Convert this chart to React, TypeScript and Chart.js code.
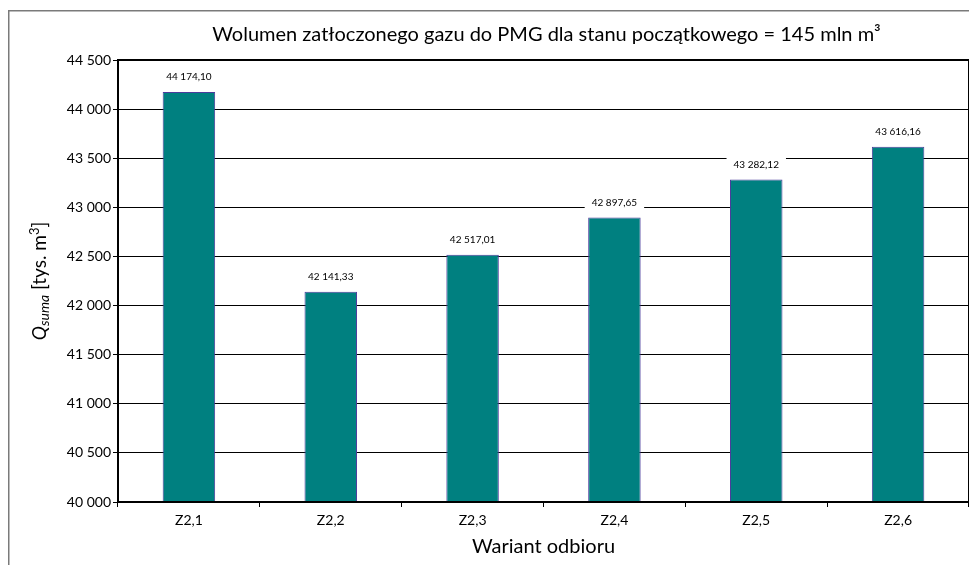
import React, { useEffect, useRef } from "react";
import { Chart, registerables } from "chart.js";

Chart.register(...registerables);

const categories = ["Z2,1", "Z2,2", "Z2,3", "Z2,4", "Z2,5", "Z2,6"];
const values = [44174.1, 42141.33, 42517.01, 42897.65, 43282.12, 43616.16];
const valueLabels = ["44 174,10", "42 141,33", "42 517,01", "42 897,65", "43 282,12", "43 616,16"];
const titleText = "Wolumen zatłoczonego gazu do PMG dla stanu początkowego = 145 mln m³";
const xTitle = "Wariant odbioru";
const yMin = 40000;
const yMax = 44500;
const yStep = 500;

const FONT = "Lato, 'Open Sans', sans-serif";

const fmt = (v: number) => {
  const s = Math.round(v).toString();
  return s.replace(/\B(?=(\d{3})+(?!\d))/g, " ");
};

const decorPlugin = {
  id: "decor",
  afterDatasetsDraw(chart: any) {
    const { ctx, chartArea } = chart;
    const meta = chart.getDatasetMeta(0);
    ctx.save();
    ctx.font = `10px ${FONT}`;
    ctx.textAlign = "center";
    ctx.textBaseline = "middle";
    meta.data.forEach((bar: any, i: number) => {
      const t = valueLabels[i];
      const w = ctx.measureText(t).width + 14;
      const y = bar.y - 15;
      ctx.fillStyle = "#ffffff";
      ctx.fillRect(bar.x - w / 2, y - 8, w, 16);
      ctx.fillStyle = "#000000";
      ctx.fillText(t, bar.x, y);
    });
    ctx.strokeStyle = "#000000";
    ctx.lineWidth = 2;
    ctx.strokeRect(chartArea.left, chartArea.top, chartArea.right - chartArea.left, chartArea.bottom - chartArea.top);
    ctx.restore();
  },
  afterDraw(chart: any) {
    const { ctx, chartArea, width, height } = chart;
    ctx.save();
    ctx.strokeStyle = "#7a7a7a";
    ctx.lineWidth = 1.5;
    ctx.beginPath();
    ctx.moveTo(0.75, height + 5);
    ctx.lineTo(0.75, 2.75);
    ctx.lineTo(width + 5, 2.75);
    ctx.stroke();
    ctx.fillStyle = "#000000";
    ctx.textAlign = "center";
    ctx.textBaseline = "middle";
    ctx.font = `20px ${FONT}`;
    const cx = (chartArea.left + chartArea.right) / 2;
    ctx.fillText(titleText, cx + 3, 27);
    ctx.font = `20px ${FONT}`;
    ctx.fillText(xTitle, cx, 539);
    const cy = (chartArea.top + chartArea.bottom) / 2;
    ctx.translate(31, cy);
    ctx.rotate(-Math.PI / 2);
    ctx.textAlign = "left";
    ctx.textBaseline = "alphabetic";
    const parts = [
      { t: "Q", f: `italic 19px ${FONT}`, dy: 0 },
      { t: "suma", f: `italic 14px ${FONT}`, dy: 3 },
      { t: " [tys. m", f: `19px ${FONT}`, dy: 0 },
      { t: "3", f: `13px ${FONT}`, dy: -7 },
      { t: "]", f: `19px ${FONT}`, dy: 0 },
    ];
    let total = 0;
    parts.forEach((p) => {
      ctx.font = p.f;
      total += ctx.measureText(p.t).width;
    });
    let x = -total / 2;
    parts.forEach((p) => {
      ctx.font = p.f;
      ctx.fillText(p.t, x, 7 + p.dy);
      x += ctx.measureText(p.t).width;
    });
    ctx.restore();
  },
};

export default function App() {
  const ref = useRef<HTMLCanvasElement>(null);
  useEffect(() => {
    if (!ref.current) return;
    const chart = new Chart(ref.current, {
      type: "bar",
      data: {
        labels: categories,
        datasets: [
          {
            data: values,
            backgroundColor: "#008080",
            borderColor: "#4b3c9c",
            borderWidth: 1,
            categoryPercentage: 1,
            barPercentage: 0.37,
          },
        ],
      },
      options: {
        animation: false,
        responsive: false,
        maintainAspectRatio: false,
        layout: { padding: { left: 0, top: 52, right: 8, bottom: 0 } },
        plugins: {
          legend: { display: false },
          title: { display: false },
          tooltip: { enabled: false },
        },
        scales: {
          x: {
            offset: true,
            grid: {
              offset: true,
              drawOnChartArea: false,
              color: "#000000",
              tickLength: 5,
              lineWidth: 1,
            },
            border: { color: "#000000", width: 2 },
            ticks: { color: "#000000", font: { family: FONT, size: 14 }, padding: 5 },
            afterFit: (s: any) => {
              s.height = 63;
            },
          },
          y: {
            min: yMin,
            max: yMax,
            ticks: {
              stepSize: yStep,
              color: "#000000",
              font: { family: FONT, size: 14 },
              padding: 2,
              callback: (v: any) => fmt(Number(v)),
            },
            grid: { color: "#000000", lineWidth: 1, tickLength: 5 },
            border: { color: "#000000", width: 2 },
            afterFit: (s: any) => {
              s.width = 110;
            },
          },
        },
      },
      plugins: [decorPlugin],
    });
    return () => chart.destroy();
  }, []);
  return (
    <div style={{ width: 969, height: 557 }}>
      <canvas ref={ref} width={969} height={557} style={{ display: "block" }} />
    </div>
  );
}
